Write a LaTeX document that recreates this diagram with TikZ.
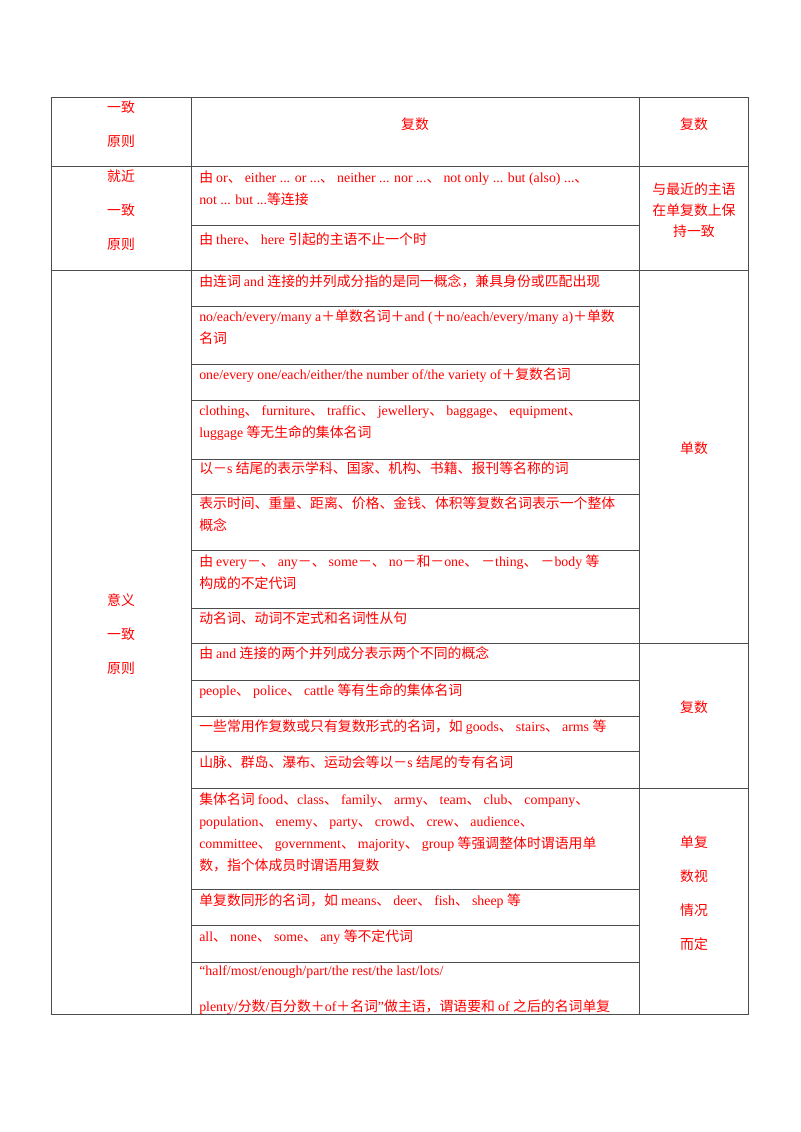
\documentclass[tikz,border=0pt]{standalone}
\usepackage{fontspec}
\setmainfont{Liberation Serif}
\newfontfamily\cjk{Noto Sans CJK SC}
\newfontfamily\lat{Liberation Serif}
\XeTeXinterchartokenstate=1
\newXeTeXintercharclass\cjkc
\makeatletter
\count@="3000
\loop\ifnum\count@<"3040 \XeTeXcharclass\count@=\cjkc \advance\count@ 1 \repeat
\count@="4E00
\loop\ifnum\count@<"A000 \XeTeXcharclass\count@=\cjkc \advance\count@ 1 \repeat
\count@="FF00
\loop\ifnum\count@<"FFF0 \XeTeXcharclass\count@=\cjkc \advance\count@ 1 \repeat
\makeatother
\XeTeXinterchartoks 0 \cjkc = {\cjk}
\XeTeXinterchartoks 4095 \cjkc = {\cjk}
\XeTeXinterchartoks \cjkc 0 = {\lat}
\XeTeXinterchartoks 4095 0 = {\lat}
\begin{document}
\begin{tikzpicture}[x=0.75pt,y=-0.75pt,
  grid/.style={draw=black!70,line width=0.65pt},
  tx/.style={text=red,inner sep=0pt,font=\fontsize{10.4}{12}\selectfont,anchor=base west},
  ct/.style={text=red,inner sep=0pt,font=\fontsize{10.4}{12}\selectfont,anchor=base}]
\useasboundingbox (0,0) rectangle (800,1132);
% outer and columns
\draw[grid] (51,97) rectangle (748,1014);
\draw[grid] (191,97) -- (191,1014);
\draw[grid] (639,97) -- (639,1014);
% full-width lines
\foreach \y in {166,270} \draw[grid] (51,\y) -- (748,\y);
% middle + right lines
\foreach \y in {643,788} \draw[grid] (191,\y) -- (748,\y);
% middle only
\foreach \y in {225,306,364,400,459,494,550,608,680,716,751,889,925,962} \draw[grid] (191,\y) -- (639,\y);
\begin{scope}[yshift=-3.8pt]
% left column
\node[ct] (l1a) at (121,107) {一致};
\node[ct] (l1b) at (121,141) {原则};
\node[ct] (l2a) at (121,176) {就近};
\node[ct] (l2b) at (121,210) {一致};
\node[ct] (l2c) at (121,244) {原则};
\node[ct] (l3a) at (121,600) {意义};
\node[ct] (l3b) at (121,634) {一致};
\node[ct] (l3c) at (121,668) {原则};
% right column
\node[ct] (r1) at (694,124) {复数};
\node[ct] (r2a) at (694,189) {与最近的主语};
\node[ct] (r2b) at (694,210) {在单复数上保};
\node[ct] (r2c) at (694,231) {持一致};
\node[ct] (r3) at (694,448) {单数};
\node[ct] (r4) at (694,707) {复数};
\node[ct] (r5a) at (694,842) {单复};
\node[ct] (r5b) at (694,876) {数视};
\node[ct] (r5c) at (694,910) {情况};
\node[ct] (r5d) at (694,944) {而定};
% middle column
\node[ct] (m0) at (415,124) {复数};
\node[tx] (m1a) at (199,177) {由 or、 either ... or ...、 neither ... nor ...、 not only ... but (also) ...、};
\node[tx] (m1b) at (199,199) {not ... but ...等连接};
\node[tx] (m2) at (199,239) {由 there、 here 引起的主语不止一个时};
\node[tx] (m3) at (199,281) {由连词 and 连接的并列成分指的是同一概念，兼具身份或匹配出现};
\node[tx] (m4a) at (199,316) {no/each/every/many a＋单数名词＋and (＋no/each/every/many a)＋单数};
\node[tx] (m4b) at (199,338) {名词};
\node[tx] (m5) at (199,374) {one/every one/each/either/the number of/the variety of＋复数名词};
\node[tx] (m6a) at (199,410) {clothing、 furniture、 traffic、 jewellery、 baggage、 equipment、};
\node[tx] (m6b) at (199,432) {luggage 等无生命的集体名词};
\node[tx] (m7) at (199,468) {以－s 结尾的表示学科、国家、机构、书籍、报刊等名称的词};
\node[tx] (m8a) at (199,503) {表示时间、重量、距离、价格、金钱、体积等复数名词表示一个整体};
\node[tx] (m8b) at (199,525) {概念};
\node[tx] (m9a) at (199,561) {由 every－、 any－、 some－、 no－和－one、 －thing、 －body 等};
\node[tx] (m9b) at (199,583) {构成的不定代词};
\node[tx] (m10) at (199,618) {动名词、动词不定式和名词性从句};
\node[tx] (m11) at (199,653) {由 and 连接的两个并列成分表示两个不同的概念};
\node[tx] (m12) at (199,690) {people、 police、 cattle 等有生命的集体名词};
\node[tx] (m13) at (199,726) {一些常用作复数或只有复数形式的名词，如 goods、 stairs、 arms 等};
\node[tx] (m14) at (199,762) {山脉、群岛、瀑布、运动会等以－s 结尾的专有名词};
\node[tx] (m15a) at (199,799) {集体名词 food、class、 family、 army、 team、 club、 company、};
\node[tx] (m15b) at (199,821) {population、 enemy、 party、 crowd、 crew、 audience、};
\node[tx] (m15c) at (199,843) {committee、 government、 majority、 group 等强调整体时谓语用单};
\node[tx] (m15d) at (199,865) {数，指个体成员时谓语用复数};
\node[tx] (m16) at (199,900) {单复数同形的名词，如 means、 deer、 fish、 sheep 等};
\node[tx] (m17) at (199,936) {all、 none、 some、 any 等不定代词};
\node[tx] (m18a) at (199,970) {“half/most/enough/part/the rest/the last/lots/};
\node[tx] (m18b) at (199,1006) {plenty/分数/百分数＋of＋名词”做主语，谓语要和 of 之后的名词单复};
\end{scope}
\end{tikzpicture}
\end{document}
